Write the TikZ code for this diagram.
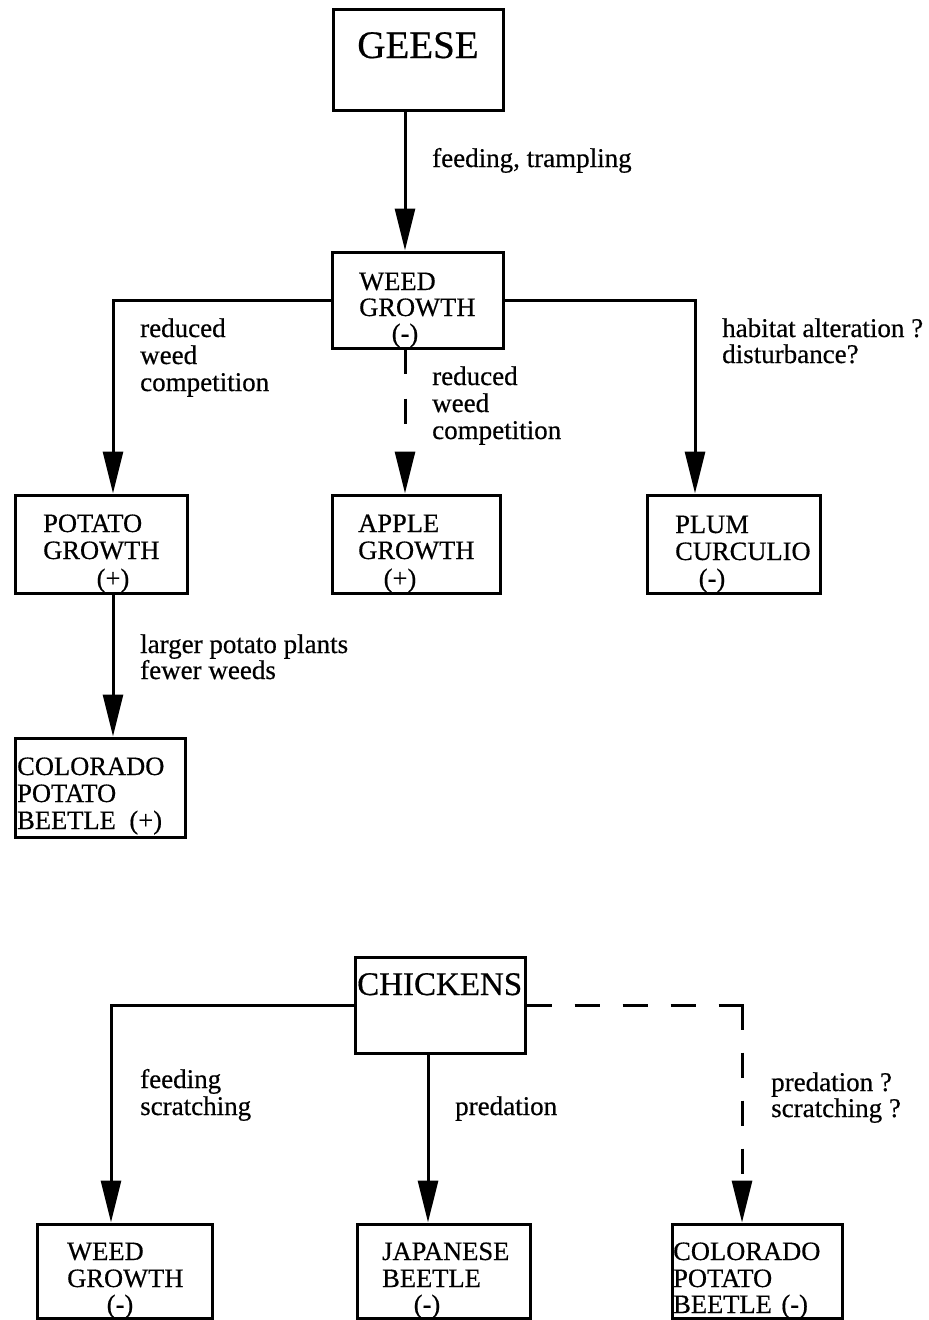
\documentclass[tikz,border=0pt]{standalone}
\usepackage{fontspec}
\setmainfont{Liberation Serif}[BoldFont={Liberation Serif},BoldFeatures={FakeBold=0.5}]
\usetikzlibrary{arrows.meta}
\begin{document}
\begin{tikzpicture}[x=1pt,y=-1pt,
  box/.style={draw,line width=3pt,rectangle,inner sep=0pt},
  txt/.style={inner sep=0pt,anchor=base west,font=\fontsize{26.5}{28}\selectfont\bfseries},
  ctxt/.style={inner sep=0pt,anchor=base,font=\fontsize{26.5}{28}\selectfont\bfseries},
  lbl/.style={inner sep=0pt,anchor=base west,font=\fontsize{27}{28}\selectfont\bfseries},
  conn/.style={line width=3pt},
  arr/.style={line width=3pt,-{Triangle[length=42pt,width=20pt]}},
  dashy/.style={dash pattern=on 24pt off 25pt on 25pt off 60pt}
]
\useasboundingbox (0,0) rectangle (929,1320);
% boxes
\node[box,minimum width=170pt,minimum height=101pt] (geese) at (418,59.5) {};
\node[box,minimum width=171pt,minimum height=96pt] (weed) at (417.5,300) {};
\node[box,minimum width=172pt,minimum height=98pt] (potato) at (101,544) {};
\node[box,minimum width=168pt,minimum height=98pt] (apple) at (416,544) {};
\node[box,minimum width=173pt,minimum height=98pt] (plum) at (733.5,544) {};
\node[box,minimum width=170pt,minimum height=99pt] (colA) at (100,787.5) {};
\node[box,minimum width=170pt,minimum height=96pt] (chick) at (440,1005) {};
\node[box,minimum width=175pt,minimum height=94pt] (weedB) at (124.5,1271) {};
\node[box,minimum width=173pt,minimum height=94pt] (jap) at (443.5,1271) {};
\node[box,minimum width=170pt,minimum height=94pt] (colB) at (757,1271) {};
% box texts
\node[inner sep=0pt,anchor=base,font=\fontsize{39}{40}\selectfont\bfseries] (tG) at (418,58) {GEESE};
\node[txt] (tW1) at (359,290) {WEED};
\node[txt] (tW2) at (359,316) {GROWTH};
\node[ctxt] (tW3) at (405,342) {(-)};
\node[txt] (tP1) at (43,532) {POTATO};
\node[txt] (tP2) at (43,559) {GROWTH};
\node[ctxt] (tP3) at (113,587) {(+)};
\node[txt] (tA1) at (358,532) {APPLE};
\node[txt] (tA2) at (358,559) {GROWTH};
\node[ctxt] (tA3) at (400,587) {(+)};
\node[txt] (tL1) at (675,533) {PLUM};
\node[txt] (tL2) at (675,560) {CURCULIO};
\node[ctxt] (tL3) at (712,587) {(-)};
\node[txt] (tC1) at (17,775) {COLORADO};
\node[txt] (tC2) at (17,802) {POTATO};
\node[txt] (tC3) at (17,829) {BEETLE\hspace{7pt} (+)};
\node[inner sep=0pt,anchor=base west,font=\fontsize{33}{35}\selectfont\bfseries] (tK) at (357,995) {CHICKENS};
\node[txt] (tB1) at (67,1260) {WEED};
\node[txt] (tB2) at (67,1287) {GROWTH};
\node[ctxt] (tB3) at (120,1313) {(-)};
\node[txt] (tJ1) at (382,1260) {JAPANESE};
\node[txt] (tJ2) at (382,1287) {BEETLE};
\node[ctxt] (tJ3) at (427,1313) {(-)};
\node[txt] (tD1) at (673,1260) {COLORADO};
\node[txt] (tD2) at (673,1287) {POTATO};
\node[txt] (tD3) at (673,1313) {BEETLE\hspace{3pt} (-)};
% connector labels
\node[lbl] (l1) at (432,167) {feeding, trampling};
\node[lbl] (l2a) at (140,337) {reduced};
\node[lbl] (l2b) at (140,364) {weed};
\node[lbl] (l2c) at (140,391) {competition};
\node[lbl] (l3a) at (432,385) {reduced};
\node[lbl] (l3b) at (432,412) {weed};
\node[lbl] (l3c) at (432,439) {competition};
\node[lbl] (l4a) at (722,337) {habitat alteration ?};
\node[lbl] (l4b) at (722,363) {disturbance?};
\node[lbl] (l5a) at (140,653) {larger potato plants};
\node[lbl] (l5b) at (140,679) {fewer weeds};
\node[lbl] (l6a) at (140,1088) {feeding};
\node[lbl] (l6b) at (140,1115) {scratching};
\node[lbl] (l7) at (455,1115) {predation};
\node[lbl] (l8a) at (771,1091) {predation ?};
\node[lbl] (l8b) at (771,1117) {scratching ?};
% x positions of connectors
\coordinate (xA) at (405,0);
\coordinate (xP) at (113,0);
\coordinate (xR) at (695,0);
\coordinate (xK) at (428,0);
\coordinate (xL) at (111,0);
\coordinate (xD) at (742,0);
% connectors
\draw[arr] (xA |- geese.south) -- (xA |- weed.north);
\draw[arr] (weed.west) -| (xP |- potato.north);
\draw[arr] (weed.east) -| (xR |- plum.north);
\draw[arr,dashy] (xA |- weed.south) -- (xA |- apple.north);
\draw[arr] (xP |- potato.south) -- (xP |- colA.north);
\draw[arr] (chick.west) -| (xL |- weedB.north);
\draw[arr] (xK |- chick.south) -- (xK |- jap.north);
\draw[arr,dash pattern=on 25pt off 23pt on 25pt off 23pt on 25pt off 23pt on 25pt off 23pt on 48pt off 23pt on 25pt off 23pt on 25pt off 23pt on 25pt off 40pt]
  (chick.east) -| (xD |- colB.north);
\end{tikzpicture}
\end{document}
